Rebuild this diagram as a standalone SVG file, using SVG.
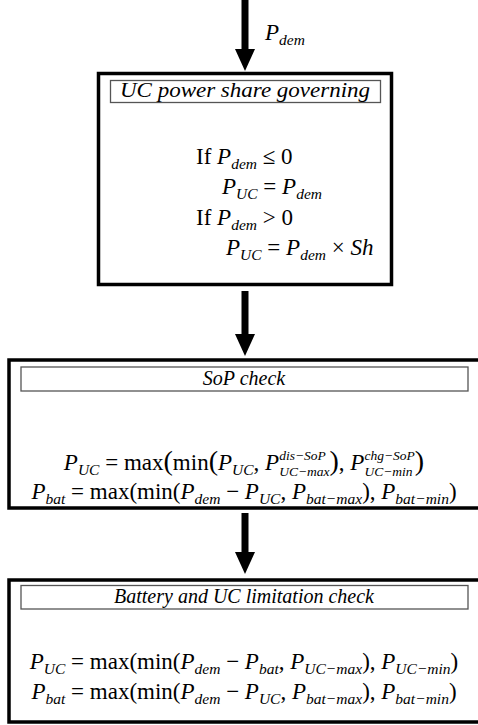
<svg xmlns="http://www.w3.org/2000/svg" width="478" height="725" viewBox="0 0 478 725">
<style>
.box{fill:none;stroke:#000;stroke-width:3.5}
.tbox{fill:#fff;stroke:#555;stroke-width:1.3}
.t{font-family:"Liberation Serif","Times New Roman","DejaVu Serif",serif;font-style:italic;font-size:20px;fill:#000}
.f{font-family:"Liberation Serif","Times New Roman","DejaVu Serif",serif;font-size:23px;fill:#000}
.i{font-style:italic}
.s{font-style:italic;font-size:15.5px}
.ss{font-style:italic;font-size:13.5px}
.bp{font-size:28px}
.arr{stroke:#000;stroke-width:7}
</style>
<defs>
<marker id="ah" markerUnits="userSpaceOnUse" markerWidth="22" markerHeight="22" refX="0" refY="10" orient="auto" viewBox="0 0 22 20">
<path d="M0,0 L22,10 L0,20 Z" fill="#000"/>
</marker>
</defs>
<g id="connectors">
<line class="arr" x1="245" y1="0" x2="245" y2="49" marker-end="url(#ah)"/>
<line class="arr" x1="245" y1="291" x2="245" y2="334" marker-end="url(#ah)"/>
<line class="arr" x1="245" y1="513" x2="245" y2="552" marker-end="url(#ah)"/>
<text class="f" x="265" y="40"><tspan class="i">P</tspan><tspan class="s" dy="5">dem</tspan></text>
</g>
<g id="node-uc-share">
<rect class="box" x="98.5" y="73.5" width="293" height="211"/>
<rect class="tbox" x="110.5" y="80.5" width="270" height="22"/>
<text class="t" x="245" y="97" text-anchor="middle" textLength="250" lengthAdjust="spacingAndGlyphs">UC power share governing</text>
<text class="f" x="196" y="164">If <tspan class="i">P</tspan><tspan class="s" dy="5">dem</tspan><tspan dy="-5"> ≤ 0</tspan></text>
<text class="f" x="222" y="194"><tspan class="i">P</tspan><tspan class="s" dy="5">UC</tspan><tspan dy="-5"> = </tspan><tspan class="i">P</tspan><tspan class="s" dy="5">dem</tspan></text>
<text class="f" x="196" y="225">If <tspan class="i">P</tspan><tspan class="s" dy="5">dem</tspan><tspan dy="-5"> &gt; 0</tspan></text>
<text class="f" x="226" y="255"><tspan class="i">P</tspan><tspan class="s" dy="5">UC</tspan><tspan dy="-5"> = </tspan><tspan class="i">P</tspan><tspan class="s" dy="5">dem</tspan><tspan dy="-5"> × </tspan><tspan class="i">Sh</tspan></text>
</g>
<g id="node-sop">
<rect class="box" x="9" y="360" width="472" height="148"/>
<rect class="tbox" x="21" y="367" width="447" height="24"/>
<text class="t" x="244" y="385" text-anchor="middle">SoP check</text>
<text class="f" x="244" y="470" text-anchor="middle"><tspan class="i">P</tspan><tspan class="s" dy="4.5">UC</tspan><tspan dy="-4.5"> = max</tspan><tspan class="bp">(</tspan>min<tspan class="bp">(</tspan><tspan class="i">P</tspan><tspan class="s" dy="4.5">UC</tspan><tspan dy="-4.5">, </tspan><tspan class="i">P</tspan><tspan class="ss" dy="-10">dis−SoP</tspan><tspan class="ss" dx="-46.6" dy="16">UC−max</tspan><tspan class="bp" dy="-6">)</tspan>, <tspan class="i">P</tspan><tspan class="ss" dy="6">UC−min</tspan><tspan class="ss" dx="-48.1" dy="-16">chg−SoP</tspan><tspan class="bp" dy="10">)</tspan></text>
<text class="f" x="244" y="499" text-anchor="middle"><tspan class="i">P</tspan><tspan class="s" dy="4.5">bat</tspan><tspan dy="-4.5"> = max(min(</tspan><tspan class="i">P</tspan><tspan class="s" dy="4.5">dem</tspan><tspan dy="-4.5"> − </tspan><tspan class="i">P</tspan><tspan class="s" dy="4.5">UC</tspan><tspan dy="-4.5">, </tspan><tspan class="i">P</tspan><tspan class="s" dy="4.5">bat−max</tspan><tspan dy="-4.5">), </tspan><tspan class="i">P</tspan><tspan class="s" dy="4.5">bat−min</tspan><tspan dy="-4.5">)</tspan></text>
</g>
<g id="node-limit">
<rect class="box" x="9" y="580" width="472" height="142"/>
<rect class="tbox" x="21" y="585.5" width="447" height="23.5"/>
<text class="t" x="244" y="603" text-anchor="middle">Battery and UC limitation check</text>
<text class="f" x="244" y="669" text-anchor="middle"><tspan class="i">P</tspan><tspan class="s" dy="4.5">UC</tspan><tspan dy="-4.5"> = max(min(</tspan><tspan class="i">P</tspan><tspan class="s" dy="4.5">dem</tspan><tspan dy="-4.5"> − </tspan><tspan class="i">P</tspan><tspan class="s" dy="4.5">bat</tspan><tspan dy="-4.5">, </tspan><tspan class="i">P</tspan><tspan class="s" dy="4.5">UC−max</tspan><tspan dy="-4.5">), </tspan><tspan class="i">P</tspan><tspan class="s" dy="4.5">UC−min</tspan><tspan dy="-4.5">)</tspan></text>
<text class="f" x="244" y="699" text-anchor="middle"><tspan class="i">P</tspan><tspan class="s" dy="4.5">bat</tspan><tspan dy="-4.5"> = max(min(</tspan><tspan class="i">P</tspan><tspan class="s" dy="4.5">dem</tspan><tspan dy="-4.5"> − </tspan><tspan class="i">P</tspan><tspan class="s" dy="4.5">UC</tspan><tspan dy="-4.5">, </tspan><tspan class="i">P</tspan><tspan class="s" dy="4.5">bat−max</tspan><tspan dy="-4.5">), </tspan><tspan class="i">P</tspan><tspan class="s" dy="4.5">bat−min</tspan><tspan dy="-4.5">)</tspan></text>
</g>
</svg>
